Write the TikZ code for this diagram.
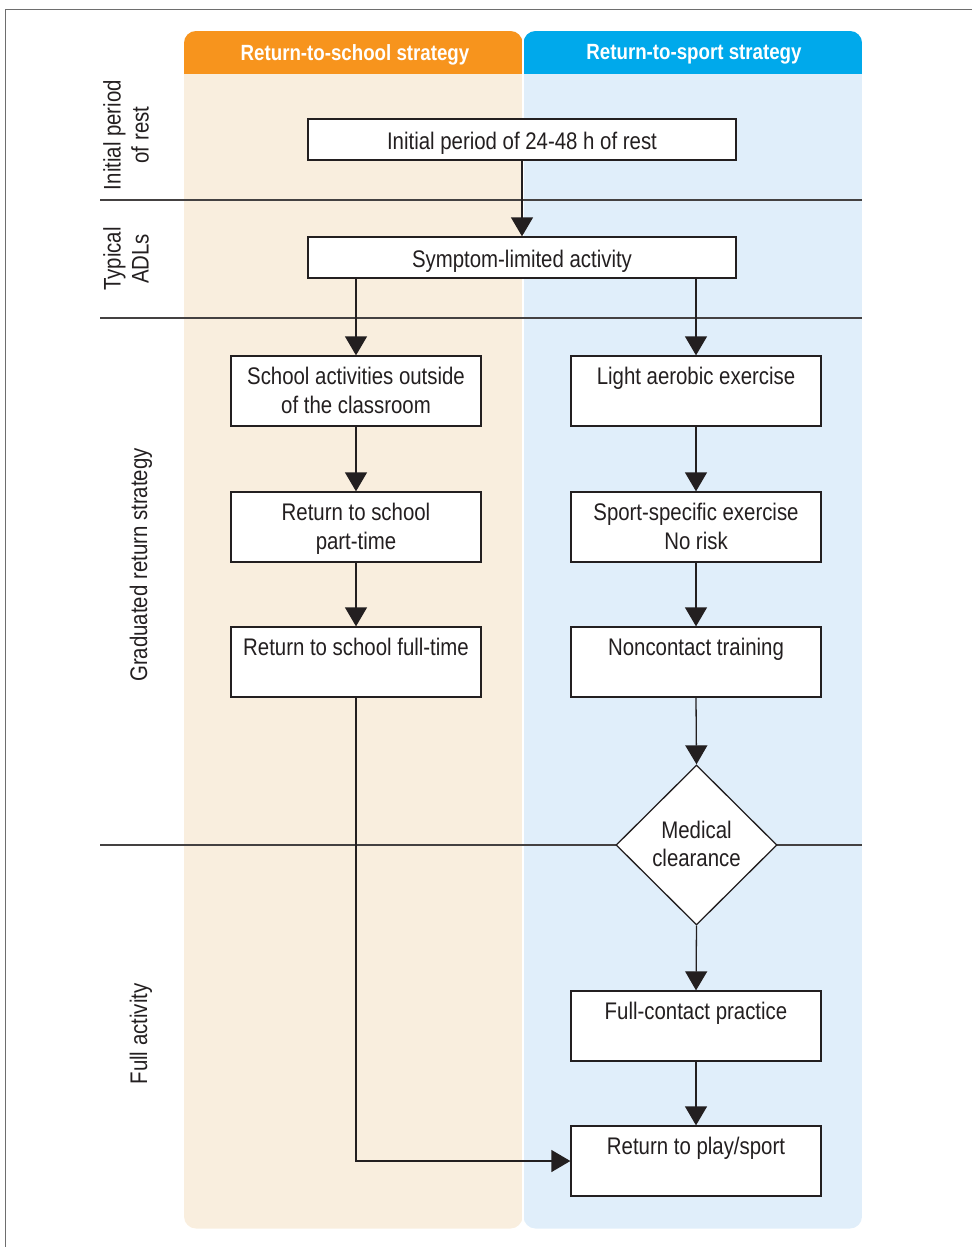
\documentclass[tikz,border=0pt]{standalone}
\usepackage{fontspec}
\setmainfont[FakeStretch=0.85]{Liberation Sans}
\usetikzlibrary{arrows.meta,shapes.geometric,calc}

\definecolor{schoolhead}{HTML}{F7941D}
\definecolor{schoolbody}{HTML}{F9EEDE}
\definecolor{sporthead}{HTML}{00A9EB}
\definecolor{sportbody}{HTML}{E0EEFA}
\definecolor{ink}{HTML}{231F20}
\definecolor{framegray}{HTML}{6E6E6E}

\tikzset{
  box/.style={draw=ink, line width=1.3pt, fill=white, inner sep=0pt,
              minimum width=250pt, minimum height=70pt},
  widebox/.style={box, minimum width=428pt, minimum height=41pt,
              font=\fontsize{24}{29}\selectfont, text=ink,
              text height=24pt, text depth=5pt},
  txt/.style={inner sep=0pt, align=center, text=ink,
              font=\fontsize{24}{29}\selectfont},
  side/.style={inner sep=0pt, align=center, text=ink, rotate=90,
              font=\fontsize{24}{28}\selectfont},
  head/.style={inner sep=0pt, text=white,
              font=\fontsize{22}{26}\selectfont\bfseries},
  decision/.style={diamond, draw=ink, line width=1.3pt, fill=white,
              inner sep=0pt, minimum width=161pt, minimum height=160pt},
  sepline/.style={draw=ink!85, line width=1.2pt},
  flow/.style={draw=ink, line width=1.3pt,
              -{Triangle[width=22pt,length=19pt]}},
}

\begin{document}
\begin{tikzpicture}[x=1pt, y=-1pt]
  \useasboundingbox (0,0) rectangle (972,1247);

  % page frame
  \draw[framegray, line width=1.5pt] (972,9.5) -- (5.5,9.5) -- (5.5,1247);

  % two strategy columns
  \begin{scope}
    \clip[rounded corners=12pt] (184,31) rectangle (522.5,1228.5);
    \fill[schoolbody] (184,31) rectangle (522.5,1228.5);
    \fill[schoolhead] (184,31) rectangle (522.5,74);
  \end{scope}
  \begin{scope}
    \clip[rounded corners=12pt] (523.5,31) rectangle (862,1228.5);
    \fill[sportbody] (523.5,31) rectangle (862,1228.5);
    \fill[sporthead] (523.5,31) rectangle (862,74);
  \end{scope}
  \node[head] (h-school) at (355,54.5) {Return-to-school strategy};
  \node[head] (h-sport) at (694,54.5) {Return-to-sport strategy};

  % phase separators
  \draw[sepline] (100,200) -- (862,200);
  \draw[sepline] (100,318) -- (862,318);
  \draw[sepline] (100,845) -- (862,845);

  % phase labels
  \node[side] (p-rest) at (126,135) {Initial period\\of rest};
  \node[side] (p-adl) at (126,259) {Typical\\ADLs};
  \node[side] (p-grad) at (141,565) {Graduated return strategy};
  \node[side] (p-full) at (141,1034) {Full activity};

  % shared steps
  \node[widebox] (rest) at (522,139.5) {Initial period of 24-48 h of rest};
  \node[widebox] (sym) at (522,257.5) {Symptom-limited activity};

  % school steps
  \node[box] (sa) at (356,391) {};
  \node[box] (pt) at (356,527) {};
  \node[box] (ft) at (356,662) {};
  \node[txt, anchor=north] (t-sa) at ([yshift=-12pt]sa.north) {School activities outside\\of the classroom};
  \node[txt, anchor=north] (t-pt) at ([yshift=-12pt]pt.north) {Return to school\\part-time};
  \node[txt, anchor=north] (t-ft) at ([yshift=-12pt]ft.north) {Return to school full-time};

  % sport steps
  \node[box] (la) at (696,391) {};
  \node[box] (ss) at (696,527) {};
  \node[box] (nc) at (696,662) {};
  \node[decision] (mc) at (696.5,845) {};
  \node[box] (fc) at (696,1026) {};
  \node[box] (rp) at (696,1161) {};
  \node[txt, anchor=north] (t-la) at ([yshift=-12pt]la.north) {Light aerobic exercise};
  \node[txt, anchor=north] (t-ss) at ([yshift=-12pt]ss.north) {Sport-specific exercise\\No risk};
  \node[txt, anchor=north] (t-nc) at ([yshift=-12pt]nc.north) {Noncontact training};
  \node[txt, font=\fontsize{24}{28}\selectfont] (t-mc) at ([yshift=1pt]mc.center) {Medical\\clearance};
  \node[txt, anchor=north] (t-fc) at ([yshift=-12pt]fc.north) {Full-contact practice};
  \node[txt, anchor=north] (t-rp) at ([yshift=-12pt]rp.north) {Return to play/sport};

  % connectors
  \draw[flow] (rest) -- (sym);
  \draw[flow] (sym.south -| sa.north) -- (sa.north);
  \draw[flow] (sym.south -| la.north) -- (la.north);
  \draw[flow] (sa) -- (pt);
  \draw[flow] (pt) -- (ft);
  \draw[flow] (la) -- (ss);
  \draw[flow] (ss) -- (nc);
  \draw[flow] (nc.south) -- (mc.north);
  \draw[flow] (mc.south) -- (fc.north);
  \draw[flow] (fc) -- (rp);
  \draw[flow] (ft.south) |- (rp.west);
\end{tikzpicture}
\end{document}
